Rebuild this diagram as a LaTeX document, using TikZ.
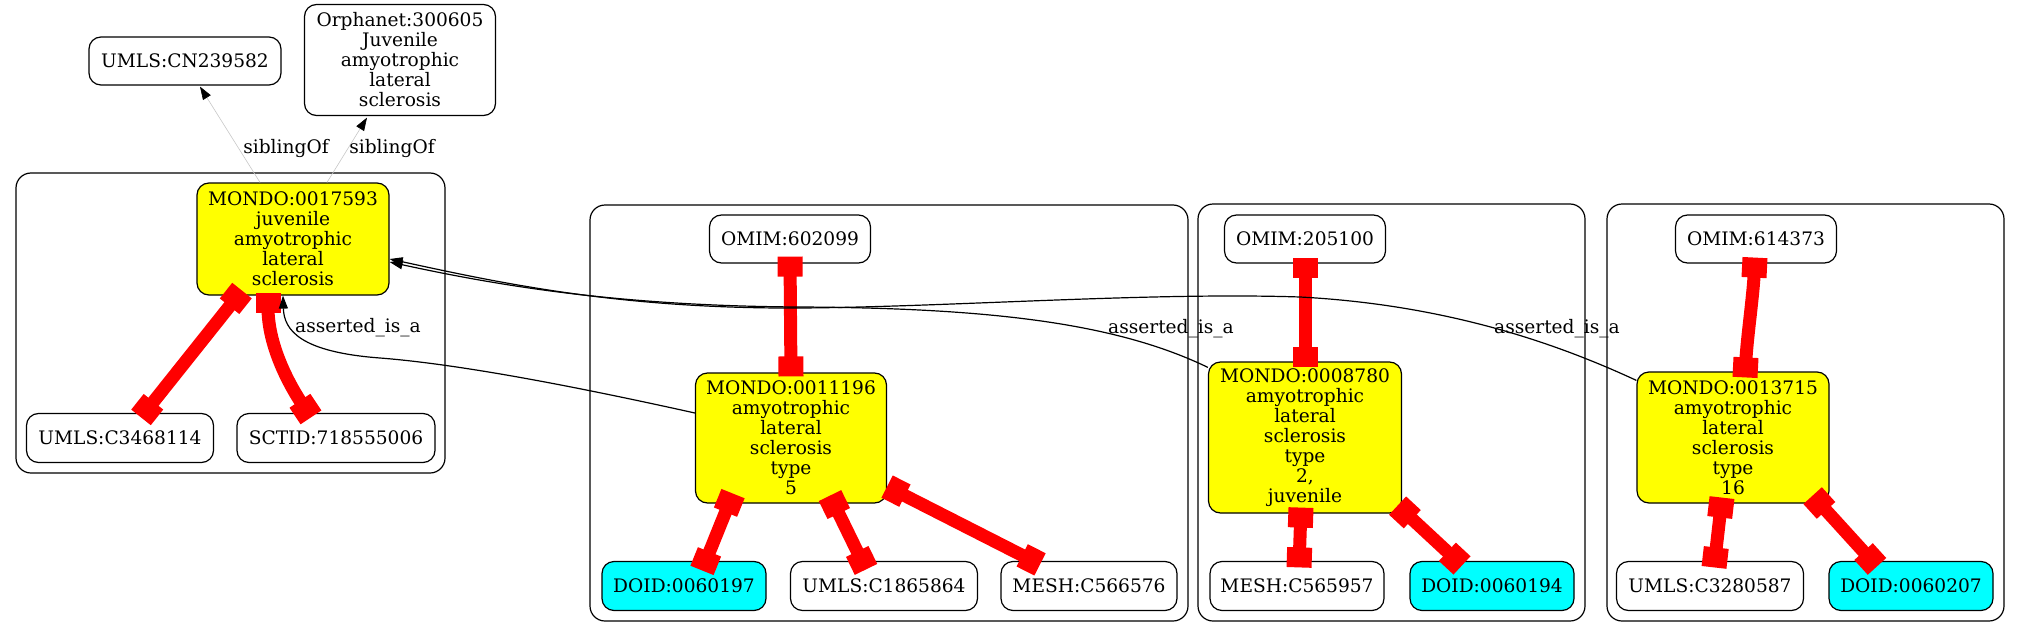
\documentclass[tikz,border=0pt]{standalone}
\usepackage{fontspec}
\setmainfont{DejaVu Serif}
\usetikzlibrary{arrows.meta}
\definecolor{ycol}{RGB}{255,255,0}
\definecolor{ccol}{RGB}{0,255,255}
\definecolor{rcol}{RGB}{255,0,0}
\begin{document}
\begin{tikzpicture}[x=0.5pt,y=-0.5pt]
\tikzset{
 base/.style={draw=black, line width=0.6pt, rounded corners=6pt, align=center, inner sep=0pt, font=\fontsize{9.3}{10}\selectfont, minimum height=24.5pt},
 plain/.style={base, fill=white},
 mondo/.style={base, fill=ycol},
 doid/.style={base, fill=ccol},
 clus/.style={draw=black, line width=0.6pt, rounded corners=7.5pt, inner sep=0pt},
 redge/.style={draw=rcol, line width=6.5pt, {Square[length=10pt,width=12.5pt]}-{Square[length=10pt,width=12.5pt]}},
 isa/.style={draw=black, line width=0.6pt, -{Triangle[length=6.5pt,width=4.5pt]}},
 sib/.style={draw=black!22, line width=0.3pt, -{Triangle[length=6.5pt,width=4.5pt,fill=black,color=black]}},
 lbl/.style={font=\fontsize{9.3}{10}\selectfont, inner sep=0pt},
}
\useasboundingbox (0,0) rectangle (2020,637);
% clusters
\node[clus, minimum width=214.5pt, minimum height=150pt] (cl1) at (230.5,323) {};
\node[clus, minimum width=299pt, minimum height=208pt] (cl2) at (889,413) {};
\node[clus, minimum width=193.5pt, minimum height=208.5pt] (cl3) at (1391.5,412.5) {};
\node[clus, minimum width=198.5pt, minimum height=208.5pt] (cl4) at (1805.5,412.5) {};
% nodes
\node[plain, minimum width=96pt, minimum height=24pt] (cn) at (185,61) {UMLS:CN239582};
\node[plain, minimum width=95.5pt, minimum height=55.5pt] (orph) at (400,60) {Orphanet:300605\\Juvenile\\amyotrophic\\lateral\\sclerosis};
\node[mondo, minimum width=96pt, minimum height=56pt] (m17593) at (293,239) {MONDO:0017593\\juvenile\\amyotrophic\\lateral\\sclerosis};
\node[plain, minimum width=93.5pt] (c3468114) at (120,438) {UMLS:C3468114};
\node[plain, minimum width=99pt] (sct) at (336,438) {SCTID:718555006};
\node[plain, minimum width=80.5pt, minimum height=24pt] (o602099) at (790,239) {OMIM:602099};
\node[mondo, minimum width=95.5pt, minimum height=65pt] (m11196) at (791,438) {MONDO:0011196\\amyotrophic\\lateral\\sclerosis\\type\\5};
\node[doid, minimum width=82pt] (d60197) at (684,586) {DOID:0060197};
\node[plain, minimum width=93.5pt] (c1865864) at (884,586) {UMLS:C1865864};
\node[plain, minimum width=88pt] (me566576) at (1089,586) {MESH:C566576};
\node[plain, minimum width=80.5pt, minimum height=24pt] (o205100) at (1305,239) {OMIM:205100};
\node[mondo, minimum width=96.5pt, minimum height=75.5pt] (m8780) at (1305,437.5) {MONDO:0008780\\amyotrophic\\lateral\\sclerosis\\type\\2,\\juvenile};
\node[plain, minimum width=87pt] (me565957) at (1297,586) {MESH:C565957};
\node[doid, minimum width=82pt] (d60194) at (1492,586) {DOID:0060194};
\node[plain, minimum width=80.5pt, minimum height=24pt] (o614373) at (1756,239) {OMIM:614373};
\node[mondo, minimum width=96pt, minimum height=65.5pt] (m13715) at (1733,437.5) {MONDO:0013715\\amyotrophic\\lateral\\sclerosis\\type\\16};
\node[plain, minimum width=93.5pt] (c3280587) at (1710,586) {UMLS:C3280587};
\node[doid, minimum width=82pt] (d60207) at (1911,586) {DOID:0060207};
% red xref edges
\draw[redge] ([shift={(-51,-5)}]m17593.south) -- ([shift={(21,4.5)}]c3468114.north);
\draw[redge] ([shift={(-25,-3)}]m17593.south) .. controls +(0,55) and +(-20,-30) .. ([shift={(-25,4.5)}]sct.north);
\draw[redge] ([shift={(0,-7)}]o602099.south) -- ([shift={(0,4)}]m11196.north);
\draw[redge] ([shift={(-58,-10)}]m11196.south) -- ([shift={(18,9.5)}]d60197.north);
\draw[redge] ([shift={(39,-8)}]m11196.south) -- ([shift={(-18,8.5)}]c1865864.north);
\draw[redge] ([shift={(0,-17)}]m11196.south east) -- ([shift={(-49,3.5)}]me566576.north);
\draw[redge] ([shift={(0,-6)}]o205100.south) -- ([shift={(0,6)}]m8780.north);
\draw[redge] ([shift={(-4,-6)}]m8780.south) -- ([shift={(2,6.5)}]me565957.north);
\draw[redge] ([shift={(-4.5,-8)}]m8780.south east) -- ([shift={(-30,4.5)}]d60194.north);
\draw[redge] ([shift={(-1,-6)}]o614373.south) .. controls +(-2,40) and +(2,-40) .. ([shift={(12,6)}]m13715.north);
\draw[redge] ([shift={(-11,-6)}]m13715.south) -- ([shift={(4,6.5)}]c3280587.north);
\draw[redge] ([shift={(-17,-8)}]m13715.south east) -- ([shift={(-34,5.5)}]d60207.north);
% asserted_is_a edges
\draw[isa] ([shift={(0,-25)}]m11196.west) .. controls (600,392) and (470,365) .. (380,358) .. controls (300,352) and (284,330) .. ([shift={(-10,0)}]m17593.south);
\draw[isa] ([shift={(0,6)}]m8780.north west) .. controls (1120,325) and (1000,308) .. (800,307) .. controls (620,306) and (500,286) .. ([shift={(0,23)}]m17593.east);
\draw[isa] ([shift={(0,9)}]m13715.north west) .. controls (1560,345) and (1450,305) .. (1300,297) .. controls (1150,292) and (950,307) .. (800,308) .. controls (620,309) and (500,283) .. ([shift={(0,20)}]m17593.east);
% siblingOf edges
\draw[sib] ([shift={(-33,0)}]m17593.north) -- ([shift={(15,1)}]cn.south);
\draw[sib] ([shift={(34,0)}]m17593.north) -- ([shift={(-33,1.5)}]orph.south);
% labels
\node[lbl] (ls1) at (286,148) {siblingOf};
\node[lbl] (ls2) at (392,148) {siblingOf};
\node[lbl] (la1) at (358,328) {asserted\_is\_a};
\node[lbl] (la2) at (1171,329) {asserted\_is\_a};
\node[lbl] (la3) at (1557,329) {asserted\_is\_a};
\end{tikzpicture}
\end{document}
